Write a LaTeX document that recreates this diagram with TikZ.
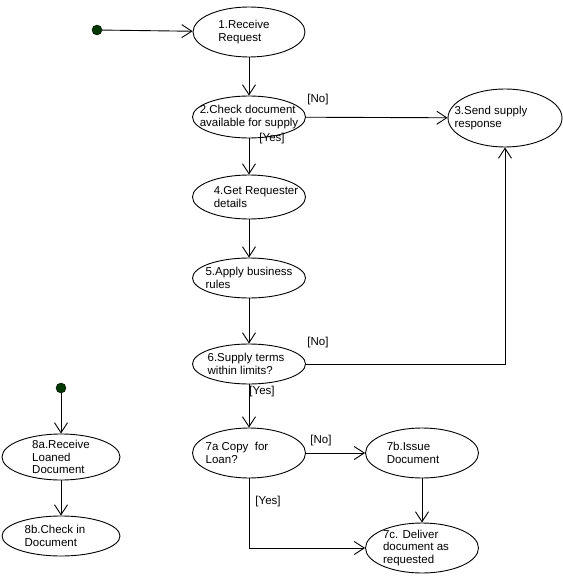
\documentclass[tikz,border=0pt]{standalone}
\usepackage{fontspec}
\setmainfont{Liberation Sans}
\usetikzlibrary{shapes.geometric,arrows.meta}
\definecolor{startgreen}{RGB}{0,56,0}
\tikzset{
  activity/.style={ellipse, draw, line width=0.9pt, inner sep=0pt},
  actlabel/.style={align=left, inner sep=0pt, font=\fontsize{11.5}{12.7}\selectfont},
  guard/.style={inner sep=0pt, font=\fontsize{11.5}{12.7}\selectfont},
  startdot/.style={circle, fill=startgreen, draw=black, minimum size=10pt, inner sep=0pt},
  flow/.style={draw, line width=0.9pt, -{Straight Barb[length=10pt,width=13pt]}}
}
% #1 text shift, #2 name, #3 centre, #4 width, #5 height, #6 text
\newcommand{\actnode}[6][0]{%
  \node[activity, minimum width=#4, minimum height=#5,
        label={[actlabel,xshift=#1]center:{#6}}] (#2) at (#3) {};}

\begin{document}
\begin{tikzpicture}[x=1pt, y=-1pt]
  \useasboundingbox (0,0) rectangle (562,585);
  % supply flow
  \node[startdot] (s1) at (97,30) {};
  \actnode[-5]{n1}{249,32}{112pt}{50pt}{1.Receive\\Request}
  \actnode{n2}{249,117}{113pt}{42pt}{2.Check document\\available for supply}
  \actnode[-14]{n3}{505,118}{114pt}{58pt}{3.Send supply\\response}
  \actnode[7]{n4}{249,197}{113pt}{44pt}{4.Get Requester\\details}
  \actnode{n5}{249,278}{113pt}{40pt}{5.Apply business\\rules}
  \actnode[-3]{n6}{249,364}{113pt}{40pt}{6.Supply terms\\within limits?}
  \actnode[-12]{n7a}{249,453}{113pt}{50pt}{7a Copy~ for\\Loan?}
  \actnode[-9]{n7b}{422,453}{113pt}{50pt}{7b.Issue\\Document}
  \actnode[-6]{n7c}{422,548}{113pt}{50pt}{7c. Deliver\\document as\\requested}
  % loan return
  \node[startdot] (s2) at (61,388) {};
  \actnode{n8a}{61,457}{118pt}{46pt}{8a.Receive\\Loaned\\Document}
  \actnode[-6]{n8b}{61,536}{118pt}{40pt}{8b.Check in\\Document}
  % connectors
  \draw[flow] (s1) -- (n1);
  \draw[flow] (n1) -- (n2);
  \draw[flow] (n2) -- (n3);
  \draw[flow] (n2) -- (n4);
  \draw[flow] (n4) -- (n5);
  \draw[flow] (n5) -- (n6);
  \draw[flow] (n6) -| (n3);
  \draw[flow] (n6) -- (n7a);
  \draw[flow] (n7a) -- (n7b);
  \draw[flow] (n7b) -- (n7c);
  \draw[flow] (n7a) |- (n7c);
  \draw[flow] (s2) -- (n8a);
  \draw[flow] (n8a) -- (n8b);
  % guards
  \node[guard] (g1) at (318,100) {[No]};
  \node[guard] (g2) at (272,139) {[Yes]};
  \node[guard] (g3) at (318,343) {[No]};
  \node[guard] (g4) at (262,392) {[Yes]};
  \node[guard] (g5) at (321,441) {[No]};
  \node[guard] (g6) at (268,502) {[Yes]};
\end{tikzpicture}
\end{document}
